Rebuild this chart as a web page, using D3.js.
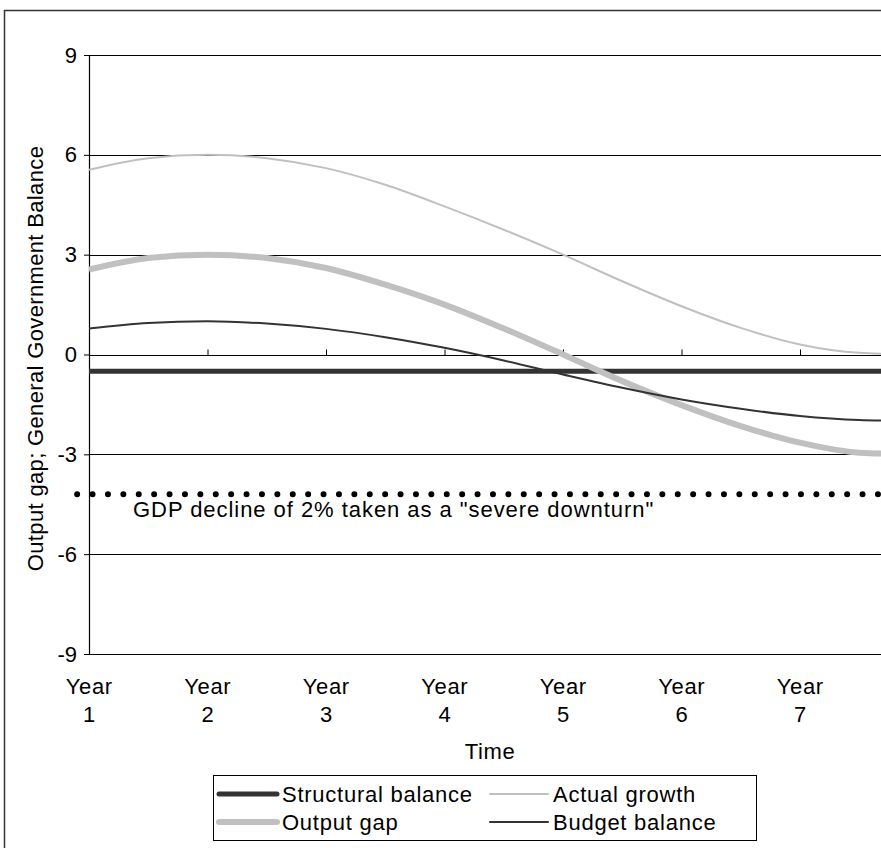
<!DOCTYPE html>
<html>
<head>
<meta charset="utf-8">
<script src="https://cdn.jsdelivr.net/npm/d3@7"></script>
<style>
  html, body { margin: 0; padding: 0; background: #fff; }
  svg { display: block; font-family: "Liberation Sans", Arial, sans-serif; }
</style>
</head>
<body>
<svg id="chart" width="881" height="848"></svg>
<script>
// ---- Data ----
const time = [1, 1.5, 2, 2.5, 3, 3.5, 4, 4.5, 5, 5.5, 6, 6.5, 7, 7.5, 8];
const structuralBalance = [-0.5, -0.5, -0.5, -0.5, -0.5, -0.5, -0.5, -0.5, -0.5, -0.5, -0.5, -0.5, -0.5, -0.5, -0.5];
const actualGrowth = [5.55, 5.9, 6.0, 5.9, 5.6, 5.1, 4.45, 3.75, 3.0, 2.2, 1.45, 0.8, 0.3, 0.05, 0.0];
const outputGap = [2.55, 2.9, 3.0, 2.9, 2.6, 2.1, 1.5, 0.78, 0.0, -0.8, -1.52, -2.15, -2.65, -2.95, -3.0];
const budgetBalance = [0.78, 0.95, 1.0, 0.93, 0.77, 0.52, 0.2, -0.18, -0.6, -1.0, -1.35, -1.63, -1.85, -1.97, -2.0];
const severeDownturn = -4.2;
const severeDownturnSpan = [0.9, 8];
const severeLabel = 'GDP decline of 2% taken as a "severe downturn"';
const yearTicks = [1, 2, 3, 4, 5, 6, 7];
const yearLabels = ["1", "2", "3", "4", "5", "6", "7"];
const yTicks = [9, 6, 3, 0, -3, -6, -9];
const xTitle = "Time";
const yTitle = "Output gap; General Government Balance";

const series = [
  { name: "Structural balance", values: structuralBalance, color: "#333333", width: 5 },
  { name: "Actual growth", values: actualGrowth, color: "#c0c0c0", width: 2 },
  { name: "Output gap", values: outputGap, color: "#c0c0c0", width: 6 },
  { name: "Budget balance", values: budgetBalance, color: "#333333", width: 2 }
];

(function () {
// ---- Layout ----
const svg = d3.select("#chart");
const W = 881, H = 848;
const pLeft = 89, pTop = 55, pBottom = 654;
const FS = 22;
const x = d3.scaleLinear().domain([1, 7]).range([pLeft, 800]);
const y = d3.scaleLinear().domain([-9, 9]).range([pBottom, pTop]);

// outer frame
svg.append("rect").attr("x", 4.5).attr("y", 10.5).attr("width", W).attr("height", H)
  .attr("fill", "none").attr("stroke", "#333").attr("stroke-width", 1.5);

const plotRight = W;
svg.append("clipPath").attr("id", "clip").append("rect")
  .attr("x", pLeft).attr("y", 0).attr("width", plotRight - pLeft).attr("height", H);

// gridlines
svg.append("g").selectAll("line").data(yTicks.filter(d => d !== 0)).join("line")
  .attr("x1", pLeft).attr("x2", plotRight)
  .attr("y1", d => Math.round(y(d)) + 0.5).attr("y2", d => Math.round(y(d)) + 0.5)
  .attr("stroke", "#000").attr("stroke-width", 1.2);

// y axis
const yAxis = svg.append("g").attr("transform", `translate(${pLeft},0)`)
  .call(d3.axisLeft(y).tickValues(yTicks).tickSize(5).tickPadding(7).tickFormat(d => String(d)));
yAxis.select(".domain").attr("stroke", "#000").attr("stroke-width", 1.2);
yAxis.selectAll(".tick line").attr("stroke", "#000");
yAxis.selectAll("text").attr("font-size", FS).attr("fill", "#000")
  .attr("font-family", "Liberation Sans, Arial, sans-serif");

// x axis line at 0 with upward ticks
const xAxis = svg.append("g").attr("transform", `translate(0,${Math.round(y(0)) + 0.5})`)
  .call(d3.axisTop(x).tickValues(yearTicks).tickSize(6).tickFormat(""));
xAxis.select(".domain").remove();
xAxis.insert("line", ":first-child").attr("x1", pLeft).attr("x2", plotRight)
  .attr("stroke", "#000").attr("stroke-width", 1.2);
xAxis.selectAll(".tick line").attr("stroke", "#000");

// x tick labels (two lines)
const xl = svg.append("g").selectAll("text").data(yearTicks).join("text")
  .attr("x", d => x(d)).attr("text-anchor", "middle")
  .attr("font-size", FS).attr("letter-spacing", 0.6).attr("fill", "#000");
xl.append("tspan").attr("x", d => x(d) + 0.3).attr("y", 694).text("Year");
xl.append("tspan").attr("x", d => x(d) + 0.3).attr("y", 722).text((d, i) => yearLabels[i]);

// axis titles
svg.append("text").attr("x", 490).attr("y", 759).attr("text-anchor", "middle")
  .attr("font-size", FS).attr("letter-spacing", 0.6).text(xTitle);
svg.append("text").attr("transform", `translate(43,${(pTop + pBottom) / 2 + 4}) rotate(-90)`)
  .attr("text-anchor", "middle").attr("font-size", FS).attr("letter-spacing", 0.35).text(yTitle);

// severe downturn dotted line
svg.append("line")
  .attr("x1", x(severeDownturnSpan[0])).attr("x2", x(severeDownturnSpan[1]))
  .attr("y1", y(severeDownturn)).attr("y2", y(severeDownturn))
  .attr("stroke", "#000").attr("stroke-width", 6).attr("stroke-linecap", "round")
  .attr("stroke-dasharray", "0 15.4");
svg.append("text").attr("x", 133).attr("y", 517).attr("font-size", FS)
  .attr("letter-spacing", 0.95).text(severeLabel);

// series lines
const line = d3.line().x((d, i) => x(time[i])).y(d => y(d)).curve(d3.curveMonotoneX);
const order = ["Structural balance", "Actual growth", "Output gap", "Budget balance"];
const g = svg.append("g").attr("clip-path", "url(#clip)");
order.forEach(n => {
  const s = series.find(t => t.name === n);
  g.append("path").attr("d", line(s.values)).attr("fill", "none")
    .attr("stroke", s.color).attr("stroke-width", s.width);
});

// legend
const lg = svg.append("g");
lg.append("rect").attr("x", 213.5).attr("y", 775.5).attr("width", 543).attr("height", 65)
  .attr("fill", "#fff").attr("stroke", "#000").attr("stroke-width", 1);
const legendPos = [
  { name: "Structural balance", lx: 219, ly: 794 },
  { name: "Actual growth", lx: 490, ly: 794 },
  { name: "Output gap", lx: 219, ly: 822 },
  { name: "Budget balance", lx: 490, ly: 822 }
];
legendPos.forEach(p => {
  const s = series.find(t => t.name === p.name);
  lg.append("line").attr("x1", p.lx).attr("x2", p.lx + 58).attr("y1", p.ly).attr("y2", p.ly)
    .attr("stroke", s.color).attr("stroke-width", s.width).attr("stroke-linecap", "round");
  lg.append("text").attr("x", p.lx + 63).attr("y", p.ly + 8).attr("font-size", FS)
    .attr("letter-spacing", 0.75).text(s.name);
});
})();
</script>
</body>
</html>
